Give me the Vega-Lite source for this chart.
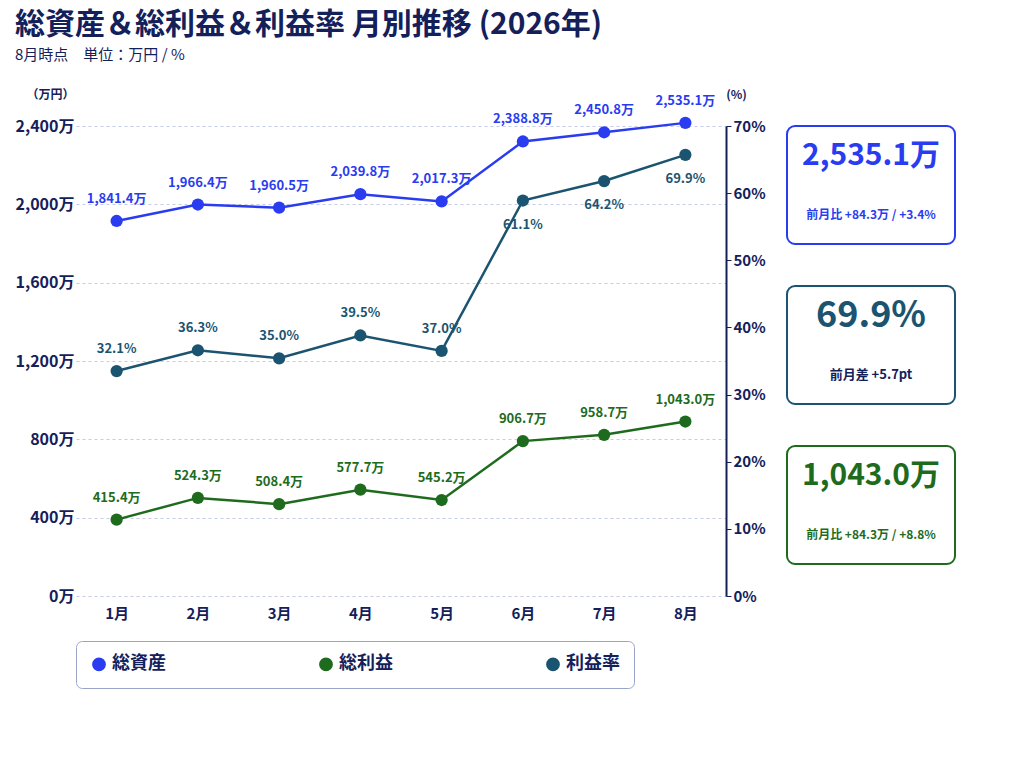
{
  "$schema": "https://vega.github.io/schema/vega-lite/v6.json",
  "background": "#ffffff",
  "padding": {"left": 15, "top": 10, "right": 10, "bottom": 10},
  "title": {
    "text": "総資産＆総利益＆利益率 月別推移 (2026年)",
    "subtitle": "8月時点　単位：万円 / %",
    "font": "Noto Sans CJK JP",
    "fontSize": 30,
    "fontWeight": "bold",
    "color": "#14205a",
    "subtitleFont": "Noto Sans CJK JP",
    "subtitleFontSize": 15,
    "subtitleColor": "#14205a",
    "subtitlePadding": 8,
    "anchor": "start",
    "offset": 25
  },
  "config": {
    "font": "Noto Sans CJK JP",
    "view": {"stroke": null},
    "axis": {"labelFont": "Noto Sans CJK JP", "titleFont": "Noto Sans CJK JP"}
  },
  "datasets": {
    "main": [
      {"month": "1月", "series": "総資産", "value": 1915, "label": "1,841.4万"},
      {"month": "2月", "series": "総資産", "value": 1999, "label": "1,966.4万"},
      {"month": "3月", "series": "総資産", "value": 1983, "label": "1,960.5万"},
      {"month": "4月", "series": "総資産", "value": 2052, "label": "2,039.8万"},
      {"month": "5月", "series": "総資産", "value": 2015, "label": "2,017.3万"},
      {"month": "6月", "series": "総資産", "value": 2321, "label": "2,388.8万"},
      {"month": "7月", "series": "総資産", "value": 2368, "label": "2,450.8万"},
      {"month": "8月", "series": "総資産", "value": 2416, "label": "2,535.1万"},
      {"month": "1月", "series": "総利益", "value": 390, "label": "415.4万"},
      {"month": "2月", "series": "総利益", "value": 501, "label": "524.3万"},
      {"month": "3月", "series": "総利益", "value": 469, "label": "508.4万"},
      {"month": "4月", "series": "総利益", "value": 543, "label": "577.7万"},
      {"month": "5月", "series": "総利益", "value": 490, "label": "545.2万"},
      {"month": "6月", "series": "総利益", "value": 791, "label": "906.7万"},
      {"month": "7月", "series": "総利益", "value": 823, "label": "958.7万"},
      {"month": "8月", "series": "総利益", "value": 891, "label": "1,043.0万"}
    ],
    "rate": [
      {"month": "1月", "series": "利益率", "value": 33.5, "label": "32.1%"},
      {"month": "2月", "series": "利益率", "value": 36.6, "label": "36.3%"},
      {"month": "3月", "series": "利益率", "value": 35.4, "label": "35.0%"},
      {"month": "4月", "series": "利益率", "value": 38.8, "label": "39.5%"},
      {"month": "5月", "series": "利益率", "value": 36.5, "label": "37.0%"},
      {"month": "6月", "series": "利益率", "value": 58.9, "label": "61.1%"},
      {"month": "7月", "series": "利益率", "value": 61.8, "label": "64.2%"},
      {"month": "8月", "series": "利益率", "value": 65.7, "label": "69.9%"}
    ]
  },
  "hconcat": [
    {
      "width": 650,
      "height": 470,
      "encoding": {
        "x": {"field": "month", "type": "ordinal", "sort": null,
          "axis": {"title": null, "labelAngle": 0, "labelFontSize": 15, "labelFontWeight": "bold", "labelColor": "#14205a", "domain": false, "ticks": false, "labelPadding": 10}},
        "color": {"field": "series", "type": "nominal",
          "scale": {"domain": ["総資産", "総利益", "利益率"], "range": ["#2a3cf0", "#1e6b1e", "#1b5470"]},
          "legend": {"orient": "bottom", "direction": "horizontal", "title": null, "labelFontSize": 18, "labelFontWeight": "bold", "labelColor": "#14205a", "symbolType": "circle", "symbolSize": 150, "columnPadding": 150, "padding": 14, "strokeColor": "#9aa3c8", "cornerRadius": 6, "offset": 20}}
      },
      "layer": [
        {
          "data": {"name": "main"},
          "encoding": {
            "y": {"field": "value", "type": "quantitative", "scale": {"domain": [0, 2400]},
              "axis": {"title": "（万円）", "titleAngle": 0, "titleAnchor": "end", "titleAlign": "left", "titleY": -25, "titleX": -50, "titleFontSize": 12, "titleColor": "#14205a",
                "values": [0, 400, 800, 1200, 1600, 2000, 2400], "labelExpr": "format(datum.value, ',') + '万'", "labelFontSize": 16, "labelFontWeight": "bold", "labelColor": "#14205a",
                "domain": false, "ticks": false, "gridDash": [3, 3], "gridColor": "#c5cbe8"}}
          },
          "layer": [
            {"mark": {"type": "line", "strokeWidth": 2.5}},
            {"mark": {"type": "circle", "size": 150, "opacity": 1}},
            {"mark": {"type": "text", "dy": -22, "fontSize": 13, "fontWeight": "bold"}, "encoding": {"text": {"field": "label"}}}
          ]
        },
        {
          "data": {"name": "rate"},
          "encoding": {
            "y": {"field": "value", "type": "quantitative", "scale": {"domain": [0, 70]},
              "axis": {"orient": "right", "title": "(%)", "titleAngle": 0, "titleY": -25, "titleX": 10, "titleFontSize": 12, "titleColor": "#14205a",
                "values": [0, 10, 20, 30, 40, 50, 60, 70], "labelExpr": "datum.value + '%'", "labelFontSize": 15, "labelFontWeight": "bold", "labelColor": "#14205a",
                "domainColor": "#14205a", "domainWidth": 2, "tickColor": "#14205a", "grid": false}}
          },
          "layer": [
            {"mark": {"type": "line", "strokeWidth": 2.5}},
            {"mark": {"type": "circle", "size": 150, "opacity": 1}},
            {"transform": [{"filter": "indexof(['6月','7月','8月'], datum.month) < 0"}],
              "mark": {"type": "text", "dy": -22, "fontSize": 13, "fontWeight": "bold"}, "encoding": {"text": {"field": "label"}}},
            {"transform": [{"filter": "indexof(['6月','7月','8月'], datum.month) >= 0"}],
              "mark": {"type": "text", "dy": 24, "fontSize": 13, "fontWeight": "bold"}, "encoding": {"text": {"field": "label"}}}
          ]
        }
      ],
      "resolve": {"scale": {"y": "independent"}}
    },
    {
      "spacing": 40,
      "vconcat": [
        {
          "width": 168, "height": 118,
          "view": {"stroke": "#2a3cf0", "strokeWidth": 2, "cornerRadius": 8},
          "data": {"values": [{"row": "a", "text": "2,535.1万"}, {"row": "b", "text": "前月比 +84.3万 / +3.4%"}]},
          "encoding": {"y": {"field": "row", "type": "nominal", "axis": null}, "text": {"field": "text"}},
          "layer": [
            {"transform": [{"filter": "datum.row == 'a'"}], "mark": {"type": "text", "fontSize": 30, "fontWeight": "bold", "color": "#2a3cf0"}},
            {"transform": [{"filter": "datum.row == 'b'"}], "mark": {"type": "text", "fontSize": 12, "fontWeight": "bold", "color": "#2a3cf0"}}
          ]
        },
        {
          "width": 168, "height": 118,
          "view": {"stroke": "#1b5470", "strokeWidth": 2, "cornerRadius": 8},
          "data": {"values": [{"row": "a", "text": "69.9%"}, {"row": "b", "text": "前月差 +5.7pt"}]},
          "encoding": {"y": {"field": "row", "type": "nominal", "axis": null}, "text": {"field": "text"}},
          "layer": [
            {"transform": [{"filter": "datum.row == 'a'"}], "mark": {"type": "text", "fontSize": 36, "fontWeight": "bold", "color": "#1b5470"}},
            {"transform": [{"filter": "datum.row == 'b'"}], "mark": {"type": "text", "fontSize": 13, "fontWeight": "bold", "color": "#14205a"}}
          ]
        },
        {
          "width": 168, "height": 118,
          "view": {"stroke": "#1e6b1e", "strokeWidth": 2, "cornerRadius": 8},
          "data": {"values": [{"row": "a", "text": "1,043.0万"}, {"row": "b", "text": "前月比 +84.3万 / +8.8%"}]},
          "encoding": {"y": {"field": "row", "type": "nominal", "axis": null}, "text": {"field": "text"}},
          "layer": [
            {"transform": [{"filter": "datum.row == 'a'"}], "mark": {"type": "text", "fontSize": 30, "fontWeight": "bold", "color": "#1e6b1e"}},
            {"transform": [{"filter": "datum.row == 'b'"}], "mark": {"type": "text", "fontSize": 12, "fontWeight": "bold", "color": "#1e6b1e"}}
          ]
        }
      ]
    }
  ]
}
